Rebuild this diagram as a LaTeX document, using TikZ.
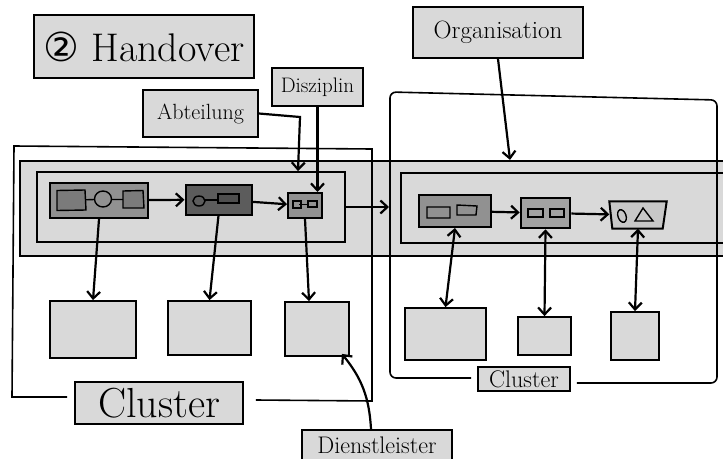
\documentclass[tikz,border=0pt]{standalone}
\usepackage{fontspec}
\newfontfamily\zeichen{DejaVu Sans}
\usepackage{tikz}
\usetikzlibrary{arrows.meta,calc,positioning}
\definecolor{skizzeHell}  {RGB}{217,217,217}
\definecolor{skizzeMittel}{RGB}{145,145,145}
\definecolor{skizzeDunkel}{RGB}{ 92, 92, 92}
\definecolor{skizzeZart}  {RGB}{200,200,200}
\tikzset{
  beschriftung/.style={draw,line width=1.8pt,fill=skizzeHell,inner sep=0pt},
  prozess/.style={draw,line width=2pt,inner sep=0pt},
  figur/.style={draw,line width=1.4pt},
  rahmen/.style={line width=1.6pt},
  pfeil/.style={line width=2.2pt,-{Straight Barb[length=7pt,width=13pt]}},
  doppelpfeil/.style={line width=2.2pt,{Straight Barb[length=7pt,width=13pt]}-{Straight Barb[length=7pt,width=13pt]}},
}

\begin{document}
\begin{tikzpicture}[x=1pt,y=-1pt]
\clip (0,0) rectangle (723,458);
\node[beschriftung,minimum width=220pt,minimum height=63pt] (titel) at (144,46.5)
  {\fontsize{40}{40}\selectfont{\zeichen ②} Handover};
\node[beschriftung,minimum width=115pt,minimum height=47pt] (abt) at (200.5,113.5)
  {\fontsize{22}{22}\selectfont Abteilung};
\node[beschriftung,minimum width=91pt,minimum height=38pt] (diszi) at (317.5,87)
  {\fontsize{21}{21}\selectfont Disziplin};
\node[beschriftung,minimum width=170pt,minimum height=51pt] (orga) at (498,32.5)
  {\fontsize{25}{25}\selectfont Organisation};

% Organisation
\node[draw,line width=2.2pt,fill=skizzeHell,minimum width=740pt,minimum height=95pt] (band) at (390,208.5) {};
\node[draw,line width=1.8pt,fill=skizzeHell,minimum width=308pt,minimum height=70pt] (abtL) at (191,207) {};
\node[draw,line width=1.8pt,fill=skizzeHell,minimum width=359pt,minimum height=70pt] (abtR) at (580.5,208) {};

% Cluster
\node[beschriftung,minimum width=168pt,minimum height=42pt] (clL) at (159,403)
  {\fontsize{42}{42}\selectfont Cluster};
\node[beschriftung,minimum width=92pt,minimum height=24pt] (clR) at (524,379)
  {\fontsize{24}{24}\selectfont Cluster};
\draw[rahmen] ($(clL.west)+(-7,-6)$) -- (12,397) -- (14,146) -- (372,149) -- (372,401) -- ($(clL.east)+(12,-3)$);
\draw[rahmen,rounded corners=6pt] ($(clR.west)+(-6,-1)$) -- (390,378) -- (390,92) -- (717,100) -- (717,383) -- ($(clR.east)+(6,4)$);
\coordinate (clRwest) at (389,0);

% Prozess links
\node[prozess,fill=skizzeMittel,minimum width=98pt,minimum height=35pt] (A1) at (99,200.5) {};
\node[prozess,fill=skizzeDunkel,minimum width=66pt,minimum height=30pt] (A2) at (218.5,199.5) {};
\node[prozess,fill=skizzeMittel,minimum width=34pt,minimum height=25pt] (A3) at (305,205.5) {};
\begin{scope}[shift={(A1.center)},figur,fill=skizzeMittel!85!black]
\draw (-20,-0.5) -- (-4.5,-1) (12.5,-1) -- (24,-1);
\filldraw (-42,-10) -- (-14,-10.5) -- (-13,9.5) -- (-42,10) -- cycle;
\draw (4,-1.5) ellipse (8.5 and 8);
\filldraw (24,-9.5) -- (44,-10) -- (45,7.5) -- (24,7.5) -- cycle;
\end{scope}
\begin{scope}[shift={(A2.center)},figur,fill=skizzeDunkel!85!black]
\draw (-13.5,0.5) -- (-0.5,0.5);
\draw (-19.5,1.5) ellipse (6 and 5);
\filldraw (-0.5,-5.5) rectangle (20.5,3.5);
\end{scope}
\begin{scope}[shift={(A3.center)},figur,line width=1.1pt]
\draw (-12,-4.5) rectangle (-4,2.5) (-6,-1) -- (3,-1) (3,-4.5) rectangle (12,1.5);
\end{scope}

% Prozess rechts
\node[prozess,fill=skizzeMittel,minimum width=72pt,minimum height=32pt] (B1) at (455,211) {};
\node[prozess,line width=2.6pt,fill=skizzeMittel!85!white,minimum width=49pt,minimum height=30pt] (B2) at (545.5,213) {};
\node[inner sep=0pt,minimum width=57pt,minimum height=27pt] (B3) at (638,215) {};
\filldraw[prozess,fill=skizzeZart] (B3.north west) -- (B3.north east) -- ([xshift=-4pt]B3.south east) -- ([xshift=3pt]B3.south west) -- cycle;
\begin{scope}[shift={(B1.center)},figur]
\draw (-28,-4) rectangle (-5,7) (2,-6) -- (22,-5) -- (21,4) -- (2,4) -- cycle;
\end{scope}
\begin{scope}[shift={(B2.center)},figur]
\draw (-17.5,-4) rectangle (-2.5,4) (4.5,-4) rectangle (18.5,4);
\end{scope}
\begin{scope}[shift={(B3.center)},figur]
\draw[rotate around={20:(-16,1)}] (-16,1) ellipse (4 and 6.5);
\draw (-3,6) -- (5,-7) -- (15,6) -- cycle;
\end{scope}

% Dienstleister
\node[beschriftung,minimum width=150pt,minimum height=30pt] (dienst) at (377,445)
  {\fontsize{24}{24}\selectfont Dienstleister};
\node[beschriftung,minimum width=86pt,minimum height=57pt] (L1) at (93,329.5) {};
\node[beschriftung,minimum width=83pt,minimum height=54pt] (L2) at (209.5,328) {};
\node[beschriftung,minimum width=64pt,minimum height=54pt] (L3) at (317,329) {};
\node[beschriftung,minimum width=81pt,minimum height=52pt] (R1) at (445.5,334) {};
\node[beschriftung,minimum width=53pt,minimum height=38pt] (R2) at (544.5,336) {};
\node[beschriftung,minimum width=48pt,minimum height=48pt] (R3) at (635,336) {};

\draw[pfeil] (A1) -- (A2);
\draw[pfeil] (A2) -- (A3);
\draw[pfeil] (B1) -- (B2);
\draw[pfeil] (B2) -- (B3);
\draw[pfeil] (abtL.east) -- (abtL.east -| clRwest);
\draw[pfeil] (A1.south) -- (L1.north);
\draw[pfeil] (A2.south) -- (L2.north);
\draw[pfeil] (A3.south) -- ([xshift=-8pt]L3.north);
\draw[doppelpfeil] (B1.south) -- (R1.north);
\draw[doppelpfeil] (B2.south) -- (R2.north);
\draw[doppelpfeil] (B3.south) -- (R3.north);
\draw[pfeil] (orga.south) -- ([xshift=12pt]orga.south |- band.north);
\draw[pfeil] (abt.east) -- (300,117) -- (298,118 |- abtL.north);
\draw[pfeil] (diszi.south) -- (diszi.south |- A3.north);
\draw[pfeil] ([xshift=-6pt]dienst.north) to[bend right=18] ([shift={(-8pt,3pt)}]L3.south east);
\end{tikzpicture}
\end{document}
